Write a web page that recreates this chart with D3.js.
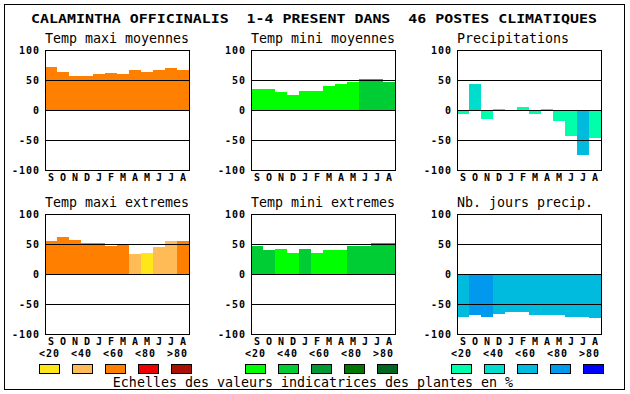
<!DOCTYPE html>
<html>
<head>
<meta charset="utf-8">
<script src="https://cdn.jsdelivr.net/npm/d3@7"></script>
<style>
    body { margin: 0; background: #fff; }
    svg text { font-family: "DejaVu Sans Mono", monospace; fill: #000; }
    .mainTitle { font-size: 13px; font-weight: bold; }
    .panelTitle { font-size: 13.3px; }
    .tickLabel, .monthLabel, .scaleLabel { font-size: 10px; font-weight: bold; letter-spacing: 1px; }
    .caption { font-size: 13.3px; }
</style>
</head>
<body>
<svg id="chart" width="630" height="394"></svg>
<script>
// DATA
const months = ['S', 'O', 'N', 'D', 'J', 'F', 'M', 'A', 'M', 'J', 'J', 'A'];
const tickValues = [100, 50, 0, -50, -100];
const gridValues = [50, 0, -50];
const scaleLabels = ['<20', '<40', '<60', '<80', '>80'];

const redColors = ['#ffe619', '#ffbb55', '#ff8000', '#ee0000', '#aa1100'];
const greenColors = ['#00ff00', '#00cc33', '#009933', '#007700', '#006622'];
const blueColors = ['#00ffaa', '#00ddcc', '#00bbdd', '#0099ee', '#0000ff'];

const tempMaxiMoy = [72, 64, 57, 57, 60, 62, 60, 66, 64, 67, 70, 67];
const tempMaxiMoyCls = [2, 2, 2, 2, 2, 2, 2, 2, 2, 2, 2, 2];
const tempMiniMoy = [35, 35, 30, 25, 32, 32, 40, 44, 47, 52, 52, 47];
const tempMiniMoyCls = [0, 0, 0, 0, 0, 0, 0, 0, 0, 1, 1, 1];
const precip = [-6, 43, -15, 2, 0, 5, -6, 2, -18, -44, -75, -46];
const precipCls = [0, 1, 0, 0, 0, 0, 0, 0, 0, 0, 2, 0];

const tempMaxiExt = [55, 62, 57, 52, 52, 47, 49, 33, 35, 45, 55, 55];
const tempMaxiExtCls = [2, 2, 2, 2, 2, 2, 2, 1, 0, 1, 1, 2];
const tempMiniExt = [47, 40, 42, 35, 42, 35, 40, 40, 47, 47, 52, 52];
const tempMiniExtCls = [1, 1, 0, 0, 1, 0, 0, 0, 1, 1, 1, 1];
const joursPrecip = [-71, -68, -71, -66, -64, -63, -68, -68, -68, -71, -71, -73];
const joursPrecipCls = [2, 3, 3, 2, 2, 2, 2, 2, 2, 2, 2, 2];

let svg = d3.select('#chart');
const plotW = 144, plotH = 120;
const colX = [45, 251, 457];
const rowY = [50, 214];

let barPanel = function(){
    this._selection = null;
    this._values = null;
    this._classes = null;
    this._colors = null;
    this._title = '';
    this._pos = [0, 0];

    //SETTERS
    this.selection = function(s){ this._selection = s; return this; }
    this.values = function(v){ this._values = v; return this; }
    this.classes = function(c){ this._classes = c; return this; }
    this.colors = function(c){ this._colors = c; return this; }
    this.title = function(t){ this._title = t; return this; }
    this.pos = function(p){ this._pos = p; return this; }

    this.draw = function(){
        let data = this._values.map((v, i) => ({i: i, v: v, c: this._classes[i]}));
        let colors = this._colors;

        let xScale = d3.scaleBand()
            .domain(d3.range(months.length))
            .range([0, plotW]);
        let yScale = d3.scaleLinear()
            .domain([-100, 100])
            .range([plotH, 0]);

        let g = this._selection.append('g')
            .attr('transform', `translate(${this._pos[0]}, ${this._pos[1]})`);

        g.append('text')
            .classed('panelTitle', true)
            .attr('x', 0)
            .attr('y', -7)
            .text(this._title);

        g.append('g')
            .selectAll('rect')
            .data(data)
            .join('rect')
            .attr('x', d => xScale(d.i))
            .attr('width', xScale.bandwidth())
            .attr('y', d => Math.round(yScale(Math.max(0, d.v))))
            .attr('height', d => Math.abs(Math.round(yScale(d.v)) - Math.round(yScale(0))))
            .attr('fill', d => colors[d.c])
            .attr('shape-rendering', 'crispEdges');

        g.append('g')
            .selectAll('line')
            .data(gridValues)
            .join('line')
            .attr('x1', 0)
            .attr('x2', plotW)
            .attr('y1', d => Math.round(yScale(d)) + 0.5)
            .attr('y2', d => Math.round(yScale(d)) + 0.5)
            .attr('stroke', '#000')
            .attr('shape-rendering', 'crispEdges');

        g.append('rect')
            .attr('x', 0.5)
            .attr('y', 0.5)
            .attr('width', plotW)
            .attr('height', plotH)
            .attr('fill', 'none')
            .attr('stroke', '#000')
            .attr('shape-rendering', 'crispEdges');

        g.selectAll('.tickLabel')
            .data(tickValues)
            .join('text')
            .classed('tickLabel', true)
            .attr('x', -5)
            .attr('y', d => yScale(d) + 4)
            .attr('text-anchor', 'end')
            .text(d => d);

        g.selectAll('.monthLabel')
            .data(months)
            .join('text')
            .classed('monthLabel', true)
            .attr('x', (d, i) => xScale(i) + xScale.bandwidth() / 2 + 0.5)
            .attr('y', plotH + 11)
            .attr('text-anchor', 'middle')
            .text(d => d);
    }
}

let legend = function(sel, x0, colors){
    let labelPos = d3.scaleLinear().domain([0, 4]).range([x0 - 6, x0 + 122]);
    let swatchPos = d3.scaleLinear().domain([0, 4]).range([x0 - 6, x0 + 126]);
    let g = sel.append('g');
    g.selectAll('text')
        .data(scaleLabels)
        .join('text')
        .classed('scaleLabel', true)
        .attr('x', (d, i) => Math.round(labelPos(i)))
        .attr('y', 357)
        .text(d => d);
    g.selectAll('rect')
        .data(colors)
        .join('rect')
        .attr('x', (d, i) => Math.round(swatchPos(i)) + 0.5)
        .attr('y', 364.5)
        .attr('width', 20)
        .attr('height', 9)
        .attr('fill', d => d)
        .attr('stroke', '#000')
        .attr('shape-rendering', 'crispEdges');
}

// outer frame
svg.append('rect')
    .attr('x', 4.5).attr('y', 4.5)
    .attr('width', 620).attr('height', 385)
    .attr('fill', '#fff')
    .attr('stroke', '#000')
    .attr('shape-rendering', 'crispEdges');

svg.append('text')
    .classed('mainTitle', true)
    .attr('x', 31)
    .attr('y', 23)
    .attr('textLength', 566)
    .attr('lengthAdjust', 'spacingAndGlyphs')
    .text('CALAMINTHA OFFICINALIS  1-4 PRESENT DANS  46 POSTES CLIMATIQUES')
    .style('white-space', 'pre');

let panels = [
    ['Temp maxi moyennes', tempMaxiMoy, tempMaxiMoyCls, redColors, 0, 0],
    ['Temp mini moyennes', tempMiniMoy, tempMiniMoyCls, greenColors, 1, 0],
    ['Precipitations', precip, precipCls, blueColors, 2, 0],
    ['Temp maxi extremes', tempMaxiExt, tempMaxiExtCls, redColors, 0, 1],
    ['Temp mini extremes', tempMiniExt, tempMiniExtCls, greenColors, 1, 1],
    ['Nb. jours precip.', joursPrecip, joursPrecipCls, blueColors, 2, 1]
];

panels.forEach(p => {
    new barPanel()
        .selection(svg)
        .title(p[0])
        .values(p[1])
        .classes(p[2])
        .colors(p[3])
        .pos([colX[p[4]], rowY[p[5]]])
        .draw();
});

legend(svg, colX[0], redColors);
legend(svg, colX[1], greenColors);
legend(svg, colX[2], blueColors);

svg.append('text')
    .classed('caption', true)
    .attr('x', 313)
    .attr('y', 387)
    .attr('text-anchor', 'middle')
    .text('Echelles des valeurs indicatrices des plantes en %');
</script>
</body>
</html>
